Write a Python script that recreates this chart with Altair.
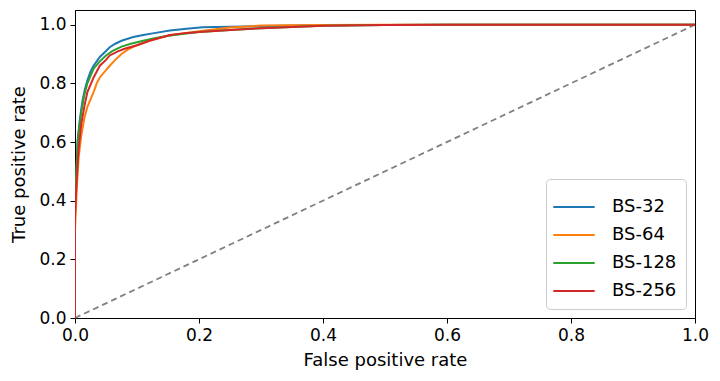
import altair as alt
import pandas as pd

series_names = ["BS-32", "BS-64", "BS-128", "BS-256"]
colors = ["#1f77b4", "#ff7f0e", "#2ca02c", "#d62728"]

fpr_32 = [0, 0, 0.002, 0.004, 0.008, 0.012, 0.016, 0.02, 0.025, 0.03, 0.035, 0.04, 0.05, 0.056, 0.065, 0.075, 0.085, 0.094, 0.11, 0.13, 0.153, 0.18, 0.206, 0.25, 0.3, 0.35, 0.4, 0.5, 0.6, 0.8, 1.0]
tpr_32 = [0, 0.35, 0.45, 0.6, 0.68, 0.74, 0.78, 0.81, 0.84, 0.86, 0.875, 0.89, 0.91, 0.923, 0.935, 0.945, 0.952, 0.958, 0.965, 0.972, 0.98, 0.986, 0.991, 0.993, 0.995, 0.997, 0.998, 0.999, 1.0, 1.0, 1.0]

fpr_64 = [0, 0, 0.003, 0.006, 0.01, 0.015, 0.02, 0.024, 0.03, 0.035, 0.04, 0.05, 0.056, 0.065, 0.075, 0.085, 0.1, 0.12, 0.15, 0.18, 0.2, 0.25, 0.3, 0.4, 0.5, 0.6, 0.8, 1.0]
tpr_64 = [0, 0.3, 0.45, 0.55, 0.62, 0.68, 0.72, 0.74, 0.77, 0.8, 0.82, 0.845, 0.86, 0.88, 0.9, 0.915, 0.93, 0.945, 0.962, 0.972, 0.978, 0.99, 0.997, 0.999, 1.0, 1.0, 1.0, 1.0]

fpr_128 = [0, 0, 0.002, 0.005, 0.01, 0.015, 0.02, 0.03, 0.04, 0.05, 0.06, 0.075, 0.09, 0.11, 0.13, 0.15, 0.18, 0.2, 0.25, 0.3, 0.4, 0.5, 0.6, 0.8, 1.0]
tpr_128 = [0, 0.38, 0.5, 0.62, 0.7, 0.76, 0.8, 0.85, 0.875, 0.895, 0.91, 0.925, 0.935, 0.945, 0.955, 0.962, 0.97, 0.975, 0.982, 0.988, 0.996, 0.999, 1.0, 1.0, 1.0]

fpr_256 = [0, 0, 0.003, 0.006, 0.01, 0.015, 0.02, 0.03, 0.04, 0.05, 0.056, 0.07, 0.08, 0.1, 0.12, 0.153, 0.18, 0.206, 0.25, 0.3, 0.4, 0.5, 0.6, 0.8, 1.0]
tpr_256 = [0, 0.35, 0.48, 0.58, 0.66, 0.72, 0.77, 0.82, 0.86, 0.88, 0.895, 0.91, 0.918, 0.93, 0.945, 0.965, 0.972, 0.976, 0.982, 0.988, 0.996, 0.999, 1.0, 1.0, 1.0]

diag_x = [0, 1]
diag_y = [0, 1]
ticks = [0.0, 0.2, 0.4, 0.6, 0.8, 1.0]

rows = []
for name, xs, ys in [("BS-32", fpr_32, tpr_32), ("BS-64", fpr_64, tpr_64),
                     ("BS-128", fpr_128, tpr_128), ("BS-256", fpr_256, tpr_256)]:
    for i, (a, b) in enumerate(zip(xs, ys)):
        rows.append({"series": name, "fpr": a, "tpr": b, "i": i})
df = pd.DataFrame(rows)
diag = pd.DataFrame({"fpr": diag_x, "tpr": diag_y})

font = "DejaVu Sans"
xscale = alt.Scale(domain=[0, 1], nice=False, zero=False)
yscale = alt.Scale(domain=[0, 1.05], nice=False, zero=False)
xaxis = alt.Axis(values=ticks, format=".1f", title="False positive rate", grid=False,
                 labelFlush=False, labelOverlap=False)
yaxis = alt.Axis(values=ticks, format=".1f", title="True positive rate", grid=False,
                 labelFlush=False, labelOverlap=False)

diag_line = alt.Chart(diag).mark_line(color="#808080", strokeDash=[6, 4], strokeWidth=1.8).encode(
    x=alt.X("fpr:Q", scale=xscale, axis=xaxis),
    y=alt.Y("tpr:Q", scale=yscale, axis=yaxis),
)

lines = alt.Chart(df).mark_line(strokeWidth=2, clip=True).encode(
    x=alt.X("fpr:Q", scale=xscale, axis=xaxis),
    y=alt.Y("tpr:Q", scale=yscale, axis=yaxis),
    color=alt.Color("series:N", scale=alt.Scale(domain=series_names, range=colors),
                    legend=alt.Legend(title=None, orient="bottom-right", offset=9,
                                      symbolType="M-1.15,0H1.15", symbolSize=1296, symbolStrokeWidth=2,
                                      labelFontSize=18, labelFont=font, labelColor="black",
                                      padding=9,
                                      strokeColor="#cccccc", cornerRadius=4, fillColor="white",
                                      rowPadding=0, labelOffset=19)),
    order=alt.Order("i:Q"),
)

chart = alt.layer(diag_line, lines).properties(
    width=620, height=308,
    autosize=alt.AutoSizeParams(type="none"),
    padding={"left": 67, "top": 2, "right": 17, "bottom": 56},
).configure_view(stroke="black", strokeWidth=1).configure_axis(
    domainColor="black", tickColor="black", labelColor="black", titleColor="black",
    labelFont=font, titleFont=font, labelFontSize=17, titleFontSize=18,
    titleFontWeight="normal", tickSize=5, labelPadding=4,
).configure_axisY(titlePadding=10).configure_axisX(titlePadding=8)

chart.save("out.html", embed_options={"renderer": "svg", "actions": False})
